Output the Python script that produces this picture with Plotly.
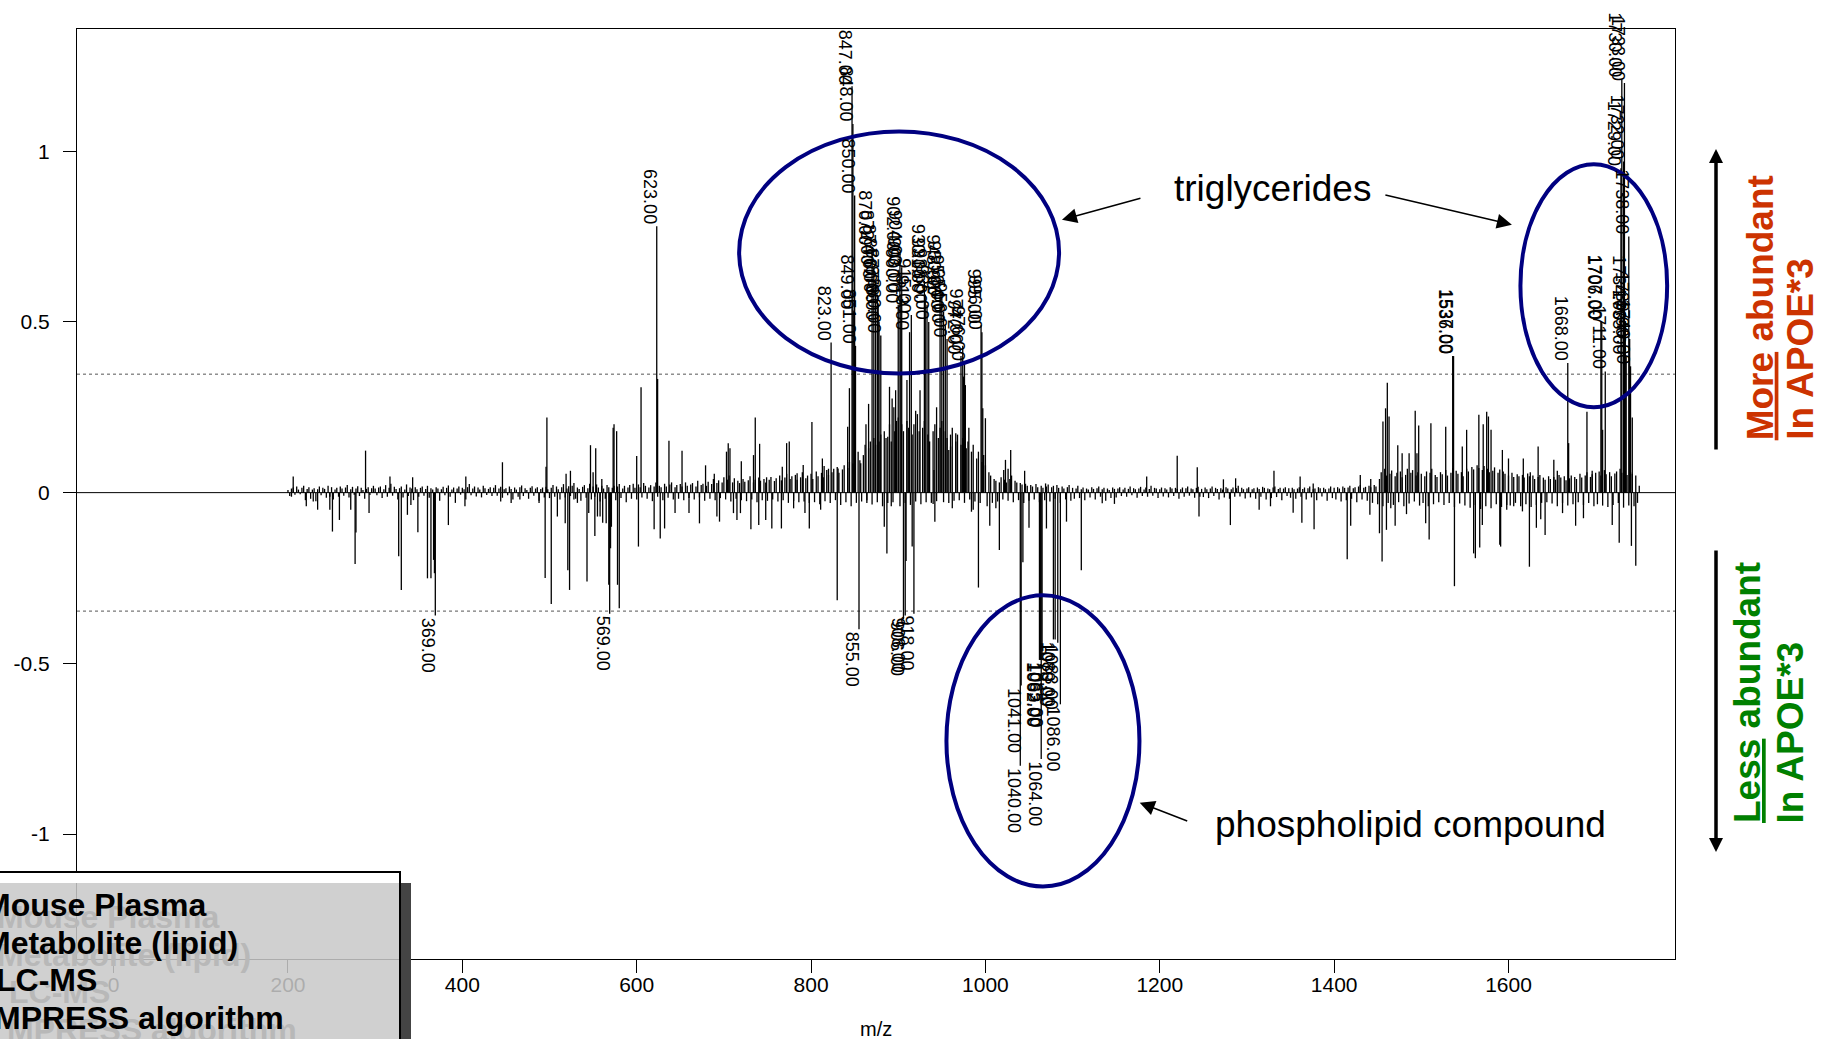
import plotly.graph_objects as go

# ---------------- data ----------------
# baseline difference signal, in thousandths, one value every 2 m/z starting at 200
MZ_FIRST = 200
MZ_STEP = 2
baseline_milli = [
    8, -10, 12, 15, -6, 18, 9, -5, 14, 20, -22, 11, 16, -18, 9, 13, -25, 10, 18, -8, 14, 11, -15, 20, -12,
    16, -20, 9, 14, -12, 18, 12, -9, 15, 22, -14, 10, 17, -6, 12, 19, -10, 14, 8, -18, 11, 16, -7, 13, 20,
    12, -8, 15, 18, -16, 10, 22, -12, 14, 26, -9, 17, 11, -20, 13, 18, -14, 9, 24, -10, 15, 12, -22, 16, 10,
    -12, 14, 18, -9, 11, 20, -15, 13, 9, -18, 16, 12, -24, 10, 17, -8, 14, 21, -12, 9, 15, -30, 12, 18, -6,
    14, 10, -20, 16, 25, -8, 12, 18, -11, 15, 9, -14, 20, 13, -7, 11, 16, -10, 14, 22, -9, 12, 17, -15, 10,
    13, -8, 18, 11, -20, 15, 9, -12, 16, 21, -10, 13, 8, -18, 14, 19, -9, 12, 16, -24, 11, 15, -14, 17, 10,
    -16, 14, 22, -12, 18, 10, -20, 16, 25, -14, 12, 19, -10, 20, 28, -18, 15, 11, -24, 17, 22, -15, 13, 26, -20,
    18, -12, 24, 15, -26, 20, 12, -18, 22, 16, -30, 14, 20, -22, 18, 25, -16, 12, 20, -28, 15, 22, -18, 26, 14,
    -20, 24, 16, -14, 28, 20, -18, 15, 22, -25, 18, 30, -12, 20, 16, -22, 26, 18, -15, 24, 30, -20, 16, 22, -18,
    25, 18, -22, 30, 20, -16, 24, 28, -20, 18, 35, -14, 22, 26, -24, 20, 32, -18, 25, 40, -22, 28, 36, -16, 30,
    45, -20, 38, 50, -26, 30, 42, -18, 35, 28, -22, 40, 32, -25, 36, 48, -20, 30, 38, -28, 44, 35, -22, 40, 30,
    -24, 38, 46, -20, 34, 42, -26, 50, 36, -22, 44, 55, -30, 40, 48, -24, 52, 38, -28, 45, 60, -26, 42, 50, -30,
    55, 40, -28, 62, 48, -34, 58, 45, -25, 66, 52, -30, 60, 70, -22, 75, 58, -36, 68, 80, -28, 72, 90, -40, 85,
    100, -30, 120, 95, -26, 110, 140, -22, 130, 150, -35, 160, 140, -28, 150, 170, -40, 180, 160, -30, 200, 150, -28, 180, 210,
    220, -40, 200, 180, -30, 210, 190, -36, 170, 200, -26, 230, 180, -34, 190, 210, -28, 170, 150, -30, 180, 200, -25, 160, 190,
    210, -28, 180, 160, -30, 170, 190, -24, 150, 170, -22, 140, 160, -30, 130, 150, -20, 120, 140, -26, 100, 120, -30, 90, 110,
    80, -40, 60, 50, -30, 40, 35, -26, 30, 45, -20, 38, 30, -24, 40, 50, -28, 35, 30, -22, 28, 24, -30, 26, 20,
    -24, 22, 18, -20, 25, 16, -28, 20, 14, -22, 18, 24, -26, 16, 20, -18, 22, 14, -30, 18, 12, -20, 16, 22, -24,
    14, -18, 12, 20, -16, 10, 15, -22, 12, 9, -14, 16, 11, -20, 13, 18, -12, 10, 14, -24, 12, 8, -16, 15, 11,
    -14, 12, 16, -10, 9, 14, -12, 11, 18, -8, 13, 10, -15, 12, 17, -10, 9, 15, -12, 11, 20, -9, 14, 12, -16,
    10, 15, -11, 13, 9, -14, 16, 12, -10, 14, 11, -18, 10, 15, -12, 13, 18, -9, 12, 10, -15, 14, 17, -12, 11,
    -13, 15, 10, -16, 12, 18, -10, 14, 11, -20, 13, 9, -14, 16, 12, -18, 10, 15, -12, 13, 20, -11, 14, 10, -17,
    12, 16, -14, 10, 13, -18, 15, 11, -12, 17, 14, -20, 12, 10, -16, 15, 18, -13, 11, 14, -22, 12, 16, -10, 13,
    -15, 14, 10, -18, 12, 16, -12, 11, 15, -20, 13, 18, -14, 10, 12, -22, 16, 13, -11, 14, 10, -24, 12, 18, -16,
    14, -20, 16, 12, -26, 18, 14, -22, 15, 20, -18, 13, 16, -28, 18, 22, -20, 14, 17, -24, 20, 16, -30, 22, 18,
    -34, 40, 60, -40, 70, 50, -30, 55, 65, -36, 48, 58, -28, 62, 45, -40, 52, 70, -32, 58, 66, -26, 50, 60, -38,
    55, -30, 48, 62, -40, 58, 70, -34, 52, 46, -28, 60, 54, -36, 66, 50, -30, 58, 72, -42, 64, 55, -32, 60, 48,
    -38, 70, 62, -44, 75, 68, -36, 80, 72, -48, 66, 78, -40, 70, 60, -46, 64, 74, -34, 58, 68, -42, 62, 55, -36,
    50, -38, 58, 46, -30, 54, 48, -40, 52, 44, -34, 56, 48, -42, 50, 40, -36, 46, 52, -30, 44, 38, -28, 48, 40,
    -32, 46, 38, -40, 52, 44, -30, 48, 36, -38, 42, 50, -34, 46, 40, -28, 55, 44, -36, 50, 60, -30, 46, 54, -40,
    58, -34, 62, 50, -38, 66, 54, -42, 60, 48, -36, 56, 62, -30, 70, 58, -44, 64, 52, -38, 60, 55, -40, 50, -30,
    20,
]

# unlabeled peaks (m/z, relative difference)
peak_mz = [
    206, 289, 317, 343, 404, 446, 496, 497, 519, 524, 547, 550, 553, 560, 573, 574, 577,
    600, 605, 624, 637, 652, 679, 689, 703, 705, 707, 720, 734, 736, 741, 749, 767, 772,
    775, 784, 791, 801, 813, 815, 820, 831, 842, 844, 857, 863, 866, 888, 890, 893, 895,
    897, 910, 920, 925, 941, 944, 958, 960, 966, 975, 977, 981, 997, 1000, 1021, 1023,
    1026, 1029, 1045, 1069, 1185, 1220, 1243, 1273, 1287, 1331, 1361, 1376, 1430, 1442,
    1456, 1459, 1461, 1463, 1473, 1478, 1486, 1493, 1495, 1497, 1511, 1528, 1547, 1552,
    1566, 1571, 1575, 1577, 1580, 1593, 1600, 1617, 1625, 1634, 1652, 1656, 1669, 1690,
    1696, 1708, 1742,
    204, 221, 229, 234, 248, 251, 259, 272, 277, 278, 293, 327, 330, 337, 341, 349, 360,
    364, 367, 368, 384, 403, 444, 456, 466, 488, 495, 502, 509, 518, 521, 523, 528, 532,
    543, 545, 552, 555, 558, 561, 565, 568, 570, 571, 578, 580, 602, 620, 627, 632, 644,
    660, 672, 692, 695, 711, 715, 719, 731, 740, 748, 755, 766, 780, 793, 798, 811, 830,
    864, 884, 887, 892, 909, 916, 940, 942, 962, 984, 986, 992, 1005, 1012, 1016, 1043,
    1050, 1070, 1093, 1110, 1134, 1148, 1245, 1281, 1314, 1327, 1353, 1363, 1377, 1415,
    1419, 1441, 1452, 1455, 1460, 1465, 1470, 1483, 1505, 1509, 1538, 1560, 1562, 1567,
    1570, 1590, 1591, 1598, 1606, 1616, 1624, 1632, 1637, 1642, 1662, 1677, 1686, 1719,
    1727, 1741, 1746,
]
peak_val = [
    0.047, 0.123, 0.047, 0.045, 0.047, 0.089, 0.076, 0.22, 0.055, 0.064, 0.139, 0.06, 0.13, 0.04, 0.19, 0.20, 0.18,
    0.107, 0.309, 0.333, 0.152, 0.123, 0.08, 0.055, 0.12, 0.145, 0.13, 0.092, 0.11, 0.22, 0.143, 0.045, 0.076, 0.145,
    0.15, 0.057, 0.081, 0.207, 0.10, 0.078, 0.07, 0.071, 0.193, 0.306, 0.086, 0.20, 0.26, 0.164, 0.31, 0.276, 0.25,
    0.30, 0.33, 0.24, 0.30, 0.066, 0.25, 0.125, 0.135, 0.174, 0.34, 0.315, 0.19, 0.247, 0.218, 0.066, 0.096,
    0.07, 0.125, 0.064, 0.027, 0.047, 0.108, 0.074, 0.039, 0.042, 0.064, 0.047, 0.027, 0.052, 0.04,
    0.208, 0.247, 0.322, 0.223, 0.139, 0.115, 0.115, 0.24, 0.115, 0.197, 0.203, 0.193, 0.135, 0.184,
    0.228, 0.20, 0.237, 0.223, 0.184, 0.125, 0.10, 0.10, 0.06, 0.135, 0.096, 0.064, 0.145, 0.237,
    0.064, 0.184, 0.22,
    -0.012, -0.04, -0.026, -0.05, -0.05, -0.114, -0.08, -0.05, -0.209, -0.117, -0.06, -0.186, -0.285, -0.065, -0.036, -0.116, -0.251,
    -0.251, -0.197, -0.236, -0.095, -0.04, -0.026, -0.03, -0.02, -0.03, -0.25, -0.326, -0.07, -0.09, -0.227, -0.285, -0.02, -0.03,
    -0.26, -0.06, -0.127, -0.07, -0.07, -0.088, -0.09, -0.27, -0.163, -0.10, -0.27, -0.339, -0.158, -0.107, -0.134, -0.105, -0.06,
    -0.06, -0.09, -0.07, -0.085, -0.06, -0.08, -0.06, -0.107, -0.095, -0.08, -0.105, -0.105, -0.046, -0.06, -0.105, -0.05, -0.315,
    -0.03, -0.10, -0.178, -0.04, -0.20, -0.158, -0.033, -0.085, -0.046, -0.056, -0.05, -0.278, -0.097, -0.046, -0.168, -0.204,
    -0.103, -0.105, -0.085, -0.227, -0.031, -0.033, -0.07, -0.095, -0.05, -0.04, -0.059, -0.088, -0.107, -0.195,
    -0.097, -0.065, -0.119, -0.202, -0.109, -0.046, -0.097, -0.063, -0.09, -0.137, -0.274, -0.178, -0.192, -0.161,
    -0.095, -0.153, -0.158, -0.05, -0.04, -0.055, -0.217, -0.103, -0.078, -0.124, -0.06, -0.097, -0.075, -0.095,
    -0.147, -0.156, -0.214,
]

# peaks beyond the significance threshold, labelled with their m/z
label_mz = [
    623, 823, 847, 848, 849, 850, 851, 870, 872, 874, 876, 877, 878, 880,
    900, 902, 903, 904, 913, 915, 930, 931, 933, 935, 948, 950, 952, 954, 956,
    972, 974, 976, 995, 996, 1536, 1537, 1668, 1706, 1707, 1711,
    1729, 1730, 1732, 1733, 1734, 1735, 1738, 1739, 1740,
    369, 569, 855, 906, 908, 918, 1040, 1041, 1062, 1063, 1064, 1065,
    1078, 1080, 1083, 1086,
]
label_val = [
    0.78, 0.44, 1.19, 1.08, 0.53, 0.87, 0.43, 0.72, 0.66, 0.62, 0.58, 0.55, 0.50, 0.46,
    0.55, 0.70, 0.58, 0.66, 0.47, 0.52, 0.62, 0.58, 0.55, 0.50, 0.59, 0.57, 0.53, 0.49, 0.45,
    0.40, 0.43, 0.38, 0.49, 0.47, 0.40, 0.40, 0.38, 0.50, 0.50, 0.355,
    0.95, 1.21, 0.97, 1.20, 0.50, 0.40, 0.75, 0.45, 0.37,
    -0.36, -0.355, -0.40, -0.37, -0.36, -0.355, -0.80, -0.565, -0.49, -0.49, -0.78, -0.49,
    -0.43, -0.43, -0.44, -0.62,
]

THRESHOLD = 0.347
X_RANGE = [-42, 1791]
Y_RANGE = [-1.366, 1.358]
x_ticks = [0, 200, 400, 600, 800, 1000, 1200, 1400, 1600]
y_ticks = [-1, -0.5, 0, 0.5, 1]
y_ticktext = ["-1", "-0.5", "0", "0.5", "1"]

info_lines = ["Mouse Plasma", "Metabolite (lipid)", "LC-MS", "MPRESS algorithm"]

FONT = "Liberation Sans, Arial, Helvetica, sans-serif"
W, H = 1823, 1039
ML, MR, MT, MB = 77, 148, 29, 80
PW, PH = W - ML - MR, H - MT - MB


def px(X):
    """pixel column -> paper x"""
    return (X - ML) / PW


def py(Y):
    """pixel row -> paper y"""
    return (H - MB - Y) / PH


# ---------------- spectrum as vertical sticks ----------------
xs, ys = [], []


def stick(m, v):
    xs.extend([m, m, None])
    ys.extend([0, v, None])


for i, v in enumerate(baseline_milli):
    stick(MZ_FIRST + MZ_STEP * i, v / 1000.0)
for m, v in zip(peak_mz, peak_val):
    stick(m, v)
for m, v in zip(label_mz, label_val):
    stick(m, v)

fig = go.Figure()
fig.add_trace(go.Scatter(x=xs, y=ys, mode="lines",
                         line=dict(color="black", width=1.3),
                         hoverinfo="skip", showlegend=False))

shapes = []
# threshold lines and zero line
for t in (THRESHOLD, -THRESHOLD):
    shapes.append(dict(type="line", xref="paper", x0=0, x1=1, yref="y", y0=t, y1=t,
                       line=dict(color="#555555", width=1, dash="dot"), layer="below"))
shapes.append(dict(type="line", xref="paper", x0=0, x1=1, yref="y", y0=0, y1=0,
                   line=dict(color="black", width=1)))

# highlighted compound groups
NAVY = "#000080"
for x0, x1, y0, y1 in [(717.5, 1084.5, 0.349, 1.058),
                       (1613.7, 1782.0, 0.250, 0.962),
                       (955.3, 1176.7, -1.1536, -0.3007)]:
    shapes.append(dict(type="circle", xref="x", yref="y", x0=x0, x1=x1, y0=y0, y1=y1,
                       line=dict(color=NAVY, width=4), fillcolor="rgba(0,0,0,0)"))

# info box (white header strip, drop shadow, translucent fill, frame)
shapes += [
    dict(type="rect", xref="paper", yref="paper", x0=px(-30), x1=px(400), y0=py(883), y1=py(872),
         fillcolor="white", line=dict(width=0), layer="above"),
    dict(type="rect", xref="paper", yref="paper", x0=px(400), x1=px(411), y0=py(1070), y1=py(883),
         fillcolor="#444444", line=dict(width=0), layer="above"),
    dict(type="rect", xref="paper", yref="paper", x0=px(-30), x1=px(400), y0=py(1070), y1=py(883),
         fillcolor="rgba(200,200,200,0.86)", line=dict(width=0), layer="above"),
    dict(type="rect", xref="paper", yref="paper", x0=px(-30), x1=px(400), y0=py(1070), y1=py(872),
         fillcolor="rgba(0,0,0,0)", line=dict(color="black", width=2), layer="above"),
]

ann = []
# m/z labels on significant peaks
for m, v in zip(label_mz, label_val):
    ann.append(dict(x=m, y=v, xref="x", yref="y", text=f"{m:.2f}", textangle=90,
                    showarrow=False, xanchor="center",
                    yanchor="bottom" if v > 0 else "top", xshift=-7,
                    font=dict(family=FONT, size=18, color="black")))

# group names with pointer arrows
ann.append(dict(x=1329, y=0.892, xref="x", yref="y", text="triglycerides", showarrow=False,
                font=dict(family=FONT, size=37, color="black")))
ann.append(dict(x=1487.6, y=-0.972, xref="x", yref="y", text="phospholipid compound", showarrow=False,
                font=dict(family=FONT, size=37, color="black")))
for hx, hy, ax, ay in [(1087.8, 0.799, 80, -22), (1603.9, 0.785, -128, -30), (1177.0, -0.908, 49, 19)]:
    ann.append(dict(x=hx, y=hy, xref="x", yref="y", ax=ax, ay=ay, text="", showarrow=True,
                    arrowhead=2, arrowsize=2, arrowwidth=1.5, arrowcolor="black"))

# direction arrows outside the plot
ann.append(dict(x=px(1716), y=py(149), xref="paper", yref="paper", ax=0, ay=302, text="",
                showarrow=True, arrowhead=2, arrowsize=0.8, arrowwidth=3.5, arrowcolor="black"))
ann.append(dict(x=px(1716), y=py(852), xref="paper", yref="paper", ax=0, ay=-303, text="",
                showarrow=True, arrowhead=2, arrowsize=0.8, arrowwidth=3.5, arrowcolor="black"))

RED = "#cc3300"
GREEN = "#008000"
for X, Yb, txt, col in [(1760, 441.8, "<u>More</u> abundant", RED),
                        (1801, 441.8, "In APOE*3", RED),
                        (1747, 825.5, "<u>Less</u> abundant", GREEN),
                        (1790, 825.5, "In APOE*3", GREEN)]:
    ann.append(dict(x=px(X), y=py(Yb), xref="paper", yref="paper", text=f"<b>{txt}</b>",
                    textangle=-90, showarrow=False, xanchor="center", yanchor="bottom",
                    font=dict(family=FONT, size=37, color=col)))

# info box text: pale offset copy, then the black text
box_pos = [(-18, 905), (-18, 943), (-6, 980), (-8, 1018)]
for (X, Y), txt in zip(box_pos, info_lines):
    ann.append(dict(x=px(X + 13), y=py(Y + 12), xref="paper", yref="paper", text=f"<b>{txt}</b>",
                    showarrow=False, xanchor="left", yanchor="middle",
                    font=dict(family=FONT, size=32, color="#b8b8b8")))
for (X, Y), txt in zip(box_pos, info_lines):
    ann.append(dict(x=px(X), y=py(Y), xref="paper", yref="paper", text=f"<b>{txt}</b>",
                    showarrow=False, xanchor="left", yanchor="middle",
                    font=dict(family=FONT, size=32, color="black")))

# axis title
ann.append(dict(x=0.5, y=py(1029), xref="paper", yref="paper", text="m/z", showarrow=False,
                yanchor="middle", font=dict(family=FONT, size=20, color="black")))

fig.update_layout(
    width=W, height=H, margin=dict(l=ML, r=MR, t=MT, b=MB, autoexpand=False),
    plot_bgcolor="white", paper_bgcolor="white", showlegend=False,
    shapes=shapes, annotations=ann,
)
axis_common = dict(showline=True, linecolor="black", linewidth=1, mirror=True,
                   showgrid=False, zeroline=False, ticks="outside", ticklen=13,
                   tickwidth=1, tickcolor="black",
                   tickfont=dict(family=FONT, size=21, color="black"))
fig.update_xaxes(range=X_RANGE, tickvals=x_ticks, ticklabelstandoff=-6, **axis_common)
fig.update_yaxes(range=Y_RANGE, tickvals=y_ticks, ticktext=y_ticktext, ticklabelstandoff=9,
                 **axis_common)

fig.write_html("out.html")
